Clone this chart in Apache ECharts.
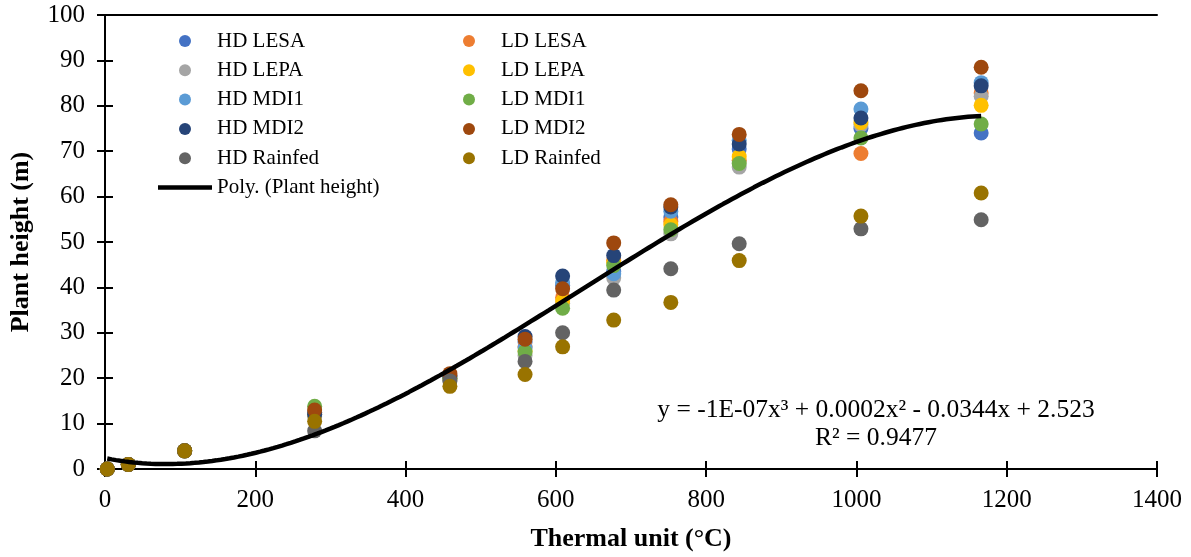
<!DOCTYPE html>
<html>
<head>
<meta charset="utf-8">
<script src="https://cdn.jsdelivr.net/npm/echarts@6/dist/echarts.min.js"></script>
<style>
  html, body { margin: 0; padding: 0; background: #fff; }
  #chart { width: 1191px; height: 557px; }
</style>
</head>
<body>
<div id="chart"></div>
<script>
// Thermal unit (°C) at each sampling date
const thermalUnits = [3, 31, 106, 279, 459, 559, 609, 677, 753, 844, 1006, 1166];

// Plant height (m) per treatment
const hdLesa    = [0, 1, 4, 12.0, 20.0, 28.0, 40.5, 43.5, 55.5, 70.5, 75.0, 74.0];
const ldLesa    = [0, 1, 4, 12.5, 20.5, 27.0, 37.8, 46.0, 54.5, 68.0, 69.5, 82.8];
const hdLepa    = [0, 1, 4, 11.5, 19.5, 25.0, 36.5, 42.1, 51.8, 66.5, 75.8, 82.1];
const ldLepa    = [0, 1, 4, 12.0, 20.0, 26.0, 37.0, 45.5, 53.8, 68.8, 76.3, 80.1];
const hdMdi1    = [0, 1, 4, 12.5, 20.5, 26.7, 41.0, 43.0, 56.8, 72.4, 79.3, 85.1];
const ldMdi1    = [0, 1, 4, 13.8, 20.0, 25.8, 35.4, 44.8, 52.7, 67.3, 72.9, 76.0];
const hdMdi2    = [0, 1, 4, 12.0, 20.5, 29.2, 42.5, 47.0, 57.7, 71.6, 77.3, 84.4];
const ldMdi2    = [0, 1, 4, 13.0, 21.0, 28.6, 39.7, 49.8, 58.2, 73.7, 83.3, 88.5];
const hdRainfed = [0, 1, 4,  8.4, 19.4, 23.7, 30.0, 39.4, 44.1, 49.6, 52.9, 54.9];
const ldRainfed = [0, 1, 4, 10.5, 18.2, 20.8, 26.9, 32.8, 36.7, 45.9, 55.7, 60.8];

const treatments = [
  { name: 'HD LESA',    values: hdLesa,    color: '#4472C4' },
  { name: 'LD LESA',    values: ldLesa,    color: '#ED7D31' },
  { name: 'HD LEPA',    values: hdLepa,    color: '#A5A5A5' },
  { name: 'LD LEPA',    values: ldLepa,    color: '#FFC000' },
  { name: 'HD MDI1',    values: hdMdi1,    color: '#5B9BD5' },
  { name: 'LD MDI1',    values: ldMdi1,    color: '#70AD47' },
  { name: 'HD MDI2',    values: hdMdi2,    color: '#264478' },
  { name: 'LD MDI2',    values: ldMdi2,    color: '#9E480E' },
  { name: 'HD Rainfed', values: hdRainfed, color: '#636363' },
  { name: 'LD Rainfed', values: ldRainfed, color: '#997300' }
];

const xTicks = { min: 0, max: 1400, interval: 200 };
const yTicks = { min: 0, max: 100, interval: 10 };

const trendName = 'Poly. (Plant height)';
const equationText = 'y = -1E-07x\u00B3 + 0.0002x\u00B2 - 0.0344x + 2.523';
const rSquaredText = 'R\u00B2 = 0.9477';

// Least-squares cubic fit over all treatment points (x scaled to thousands)
function cubicFit(points) {
  const n = 4;
  const A = Array.from({ length: n }, () => new Array(n + 1).fill(0));
  points.forEach(([x0, y]) => {
    const x = x0 / 1000;
    const p = [1, x, x * x, x * x * x];
    for (let i = 0; i < n; i++) {
      for (let j = 0; j < n; j++) A[i][j] += p[i] * p[j];
      A[i][n] += p[i] * y;
    }
  });
  for (let c = 0; c < n; c++) {
    let piv = c;
    for (let r = c + 1; r < n; r++) if (Math.abs(A[r][c]) > Math.abs(A[piv][c])) piv = r;
    [A[c], A[piv]] = [A[piv], A[c]];
    for (let r = 0; r < n; r++) {
      if (r === c) continue;
      const f = A[r][c] / A[c][c];
      for (let k = c; k <= n; k++) A[r][k] -= f * A[c][k];
    }
  }
  const coef = A.map((row, i) => row[n] / row[i]);
  return x0 => {
    const x = x0 / 1000;
    return coef[0] + coef[1] * x + coef[2] * x * x + coef[3] * x * x * x;
  };
}

const allPoints = [];
treatments.forEach(t => t.values.forEach((v, i) => allPoints.push([thermalUnits[i], v])));
const fit = cubicFit(allPoints);
const xLo = Math.min(...thermalUnits), xHi = Math.max(...thermalUnits);
const trendPoints = [];
for (let k = 0; k <= 200; k++) {
  const x = xLo + (xHi - xLo) * k / 200;
  trendPoints.push([x, fit(x)]);
}

const serif = 'Liberation Serif';
const axisLineStyle = { color: '#000', width: 2 };

const series = treatments.map(t => ({
  name: t.name,
  type: 'scatter',
  symbol: 'circle',
  symbolSize: 15,
  itemStyle: { color: t.color, opacity: 1 },
  emphasis: { disabled: true },
  data: t.values.map((v, i) => [thermalUnits[i], v]),
  z: 2
}));
series.push({
  name: trendName,
  type: 'line',
  showSymbol: false,
  symbol: 'none',
  lineStyle: { color: '#000', width: 4.5 },
  itemStyle: { color: '#000' },
  emphasis: { disabled: true },
  data: trendPoints,
  z: 5
});

const legendCommon = {
  orient: 'vertical',
  top: 30.5,
  padding: 0,
  itemWidth: 54,
  itemHeight: 12,
  itemGap: 8.3,
  textStyle: { fontFamily: serif, fontSize: 21, color: '#000', lineHeight: 21 },
  selectedMode: false
};

const chart = echarts.init(document.getElementById('chart'), null, { renderer: 'canvas' });
chart.setOption({
  animation: false,
  backgroundColor: '#fff',
  grid: { left: 105, right: 34, top: 15, bottom: 87 },
  legend: [
    Object.assign({}, legendCommon, {
      left: 158,
      data: treatments.filter(t => t.name.startsWith('HD')).map(t => ({ name: t.name, icon: 'circle' }))
        .concat([{ name: trendName, icon: 'path://M0,0 L54,0 L54,4.5 L0,4.5 Z', itemStyle: { color: '#000' } }])
    }),
    Object.assign({}, legendCommon, {
      left: 463,
      data: treatments.filter(t => t.name.startsWith('LD')).map(t => ({ name: t.name, icon: 'circle' }))
    })
  ],
  xAxis: [
    {
      type: 'value', position: 'bottom', ...xTicks,
      axisLine: { show: true, lineStyle: axisLineStyle },
      axisTick: { show: true, length: 8, lineStyle: axisLineStyle },
      axisLabel: { fontFamily: serif, fontSize: 25, color: '#000', margin: 19, formatter: v => String(v) },
      splitLine: { show: false },
      name: 'Thermal unit (\u00B0C)', nameLocation: 'middle', nameGap: 57,
      nameTextStyle: { fontFamily: serif, fontSize: 26, fontWeight: 'bold', color: '#000' }
    },
    {
      type: 'value', position: 'bottom', ...xTicks,
      axisLine: { show: false },
      axisTick: { show: true, inside: true, length: 8, lineStyle: axisLineStyle },
      axisLabel: { show: false }, splitLine: { show: false }
    },
    {
      type: 'value', position: 'top', ...xTicks,
      axisLine: { show: true, lineStyle: axisLineStyle },
      axisTick: { show: false }, axisLabel: { show: false }, splitLine: { show: false }
    }
  ],
  yAxis: [
    {
      type: 'value', position: 'left', ...yTicks,
      axisLine: { show: true, lineStyle: axisLineStyle },
      axisTick: { show: true, length: 8, lineStyle: axisLineStyle },
      axisLabel: { fontFamily: serif, fontSize: 25, color: '#000', margin: 20 },
      splitLine: { show: false },
      name: 'Plant height (m)', nameLocation: 'middle', nameGap: 71,
      nameTextStyle: { fontFamily: serif, fontSize: 26, fontWeight: 'bold', color: '#000' }
    },
    {
      type: 'value', position: 'left', ...yTicks,
      axisLine: { show: false },
      axisTick: { show: true, inside: true, length: 8, lineStyle: axisLineStyle },
      axisLabel: { show: false }, splitLine: { show: false }
    }
  ],
  graphic: [
    {
      type: 'text', x: 876, y: 410,
      style: { text: equationText, fontFamily: serif, fontSize: 25.5, fill: '#000',
               align: 'center', verticalAlign: 'middle', textAlign: 'center', textVerticalAlign: 'middle' }
    },
    {
      type: 'text', x: 876, y: 438,
      style: { text: rSquaredText, fontFamily: serif, fontSize: 25.5, fill: '#000',
               align: 'center', verticalAlign: 'middle', textAlign: 'center', textVerticalAlign: 'middle' }
    }
  ],
  series: series
});
</script>
</body>
</html>
